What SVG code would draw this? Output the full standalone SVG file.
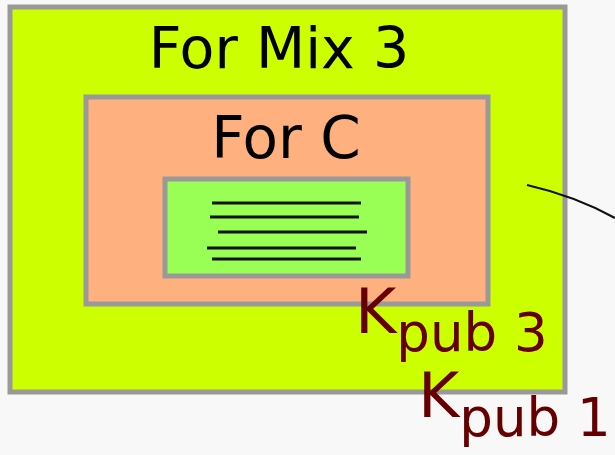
<svg xmlns="http://www.w3.org/2000/svg" width="615" height="455" viewBox="0 0 615 455">
<style>
.box{stroke:#999999;stroke-width:5}
.lbl{font-family:"DejaVu Sans",Verdana,sans-serif;fill:#000}
.key{font-family:"DejaVu Sans",Verdana,sans-serif;fill:#660000}
.ln{stroke:#111;stroke-width:3}
</style>
<rect width="615" height="455" fill="#f8f8f8"/>
<g id="mix3">
<rect class="box" x="10" y="7" width="555" height="385" fill="#CCFF00"/>
<text class="lbl" x="279" y="68" font-size="57" text-anchor="middle">For Mix 3</text>
</g>
<g id="forC">
<rect class="box" x="86" y="97" width="402" height="207" fill="#FFB07F"/>
<text class="lbl" x="286" y="158" font-size="58" text-anchor="middle">For C</text>
</g>
<g id="msg">
<rect class="box" x="165" y="179" width="243" height="97" fill="#99FF55"/>
<line class="ln" x1="212" y1="203" x2="361" y2="203"/>
<line class="ln" x1="210" y1="217" x2="359" y2="217"/>
<line class="ln" x1="218" y1="232" x2="367" y2="232"/>
<line class="ln" x1="207" y1="248" x2="356" y2="248"/>
<line class="ln" x1="212" y1="259" x2="361" y2="259"/>
</g>
<g id="kpub3">
<text class="key" x="355" y="333" font-size="63">K<tspan font-size="53" dy="18">pub 3</tspan></text>
</g>
<g id="kpub1">
<text class="key" x="418" y="417" font-size="63">K<tspan font-size="53" dy="19">pub 1</tspan></text>
</g>
<g id="connectors">
<path d="M527,185 Q575,196 615,218" fill="none" stroke="#111" stroke-width="2.2"/>
</g>
</svg>
